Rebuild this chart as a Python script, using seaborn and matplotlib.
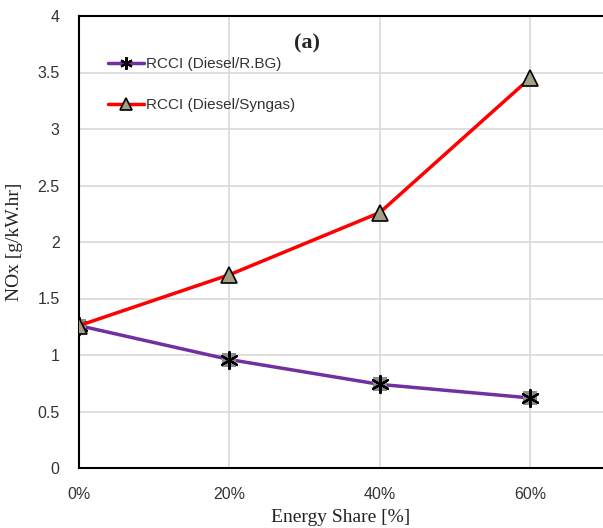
import matplotlib
matplotlib.use("Agg")
import matplotlib.pyplot as plt
from matplotlib.lines import Line2D
import seaborn as sns
import pandas as pd

share = [0, 20, 40, 60]
tick_labels = ["0%", "20%", "40%", "60%"]
rbg = [1.26, 0.96, 0.74, 0.62]
syngas = [1.26, 1.71, 2.26, 3.45]
names = ["RCCI (Diesel/R.BG)", "RCCI (Diesel/Syngas)"]

sns.set_theme(style="whitegrid")
plt.rcParams['font.family'] = ['Liberation Sans', 'DejaVu Sans']

fig = plt.figure(figsize=(6.03, 5.28), dpi=100)
ax = fig.add_axes([79/603, 60/528, 1 - 79/603, (468-16)/528])

df1 = pd.DataFrame({"x": share, "y": rbg})
df2 = pd.DataFrame({"x": share, "y": syngas})

sns.lineplot(data=df1, x="x", y="y", ax=ax, color="#7030a0", lw=2.5,
             marker="s", markersize=10, markerfacecolor="#8c8c8c",
             markeredgewidth=0, zorder=3)
sns.scatterplot(data=df1, x="x", y="y", ax=ax, marker=(6, 2, 0), s=150,
                color="black", linewidth=1.6, zorder=4)
sns.lineplot(data=df2, x="x", y="y", ax=ax, color="#ff0000", lw=2.5,
             marker="^", markersize=12, markerfacecolor="#a49e84",
             markeredgecolor="black", markeredgewidth=1.2, zorder=5)

ax.set_xlim(0, 69.7)
ax.set_ylim(0, 4)
ax.set_xticks(share)
ax.set_xticklabels(tick_labels)
ax.set_yticks([0, 0.5, 1, 1.5, 2, 2.5, 3, 3.5, 4])
ax.set_yticklabels(["0", "0.5", "1", "1.5", "2", "2.5", "3", "3.5", "4"])
ax.tick_params(axis="both", labelsize=11.5, colors="#333333", length=0)
ax.tick_params(axis="x", pad=14)
ax.tick_params(axis="y", pad=14)

ax.grid(True, color="#d9d9d9", lw=1.2)
ax.set_facecolor("white")
for s in ["left", "bottom", "top"]:
    ax.spines[s].set_visible(True)
    ax.spines[s].set_color("black")
    ax.spines[s].set_linewidth(1.5)
ax.spines["right"].set_visible(False)

ax.set_xlabel("Energy Share [%]", family=["Liberation Serif"], fontsize=14, color="#222222", labelpad=5)
ax.set_ylabel("NOx [g/kW.hr]", family=["Liberation Serif"], fontsize=14, color="#222222", labelpad=10)

ax.text(0.435, 0.94, "(a)", transform=ax.transAxes, family=["Liberation Serif"],
        fontsize=16, fontweight="bold", ha="center", va="center")

h1 = Line2D([], [], color="#7030a0", lw=2.5, marker=(6, 2, 0), markersize=9,
            markeredgecolor="black", markeredgewidth=1.5)
h2 = Line2D([], [], color="#ff0000", lw=2.5, marker="^", markersize=9,
            markerfacecolor="#a49e84", markeredgecolor="black", markeredgewidth=1.2)
ax.legend([h1, h2], names, loc="upper left", bbox_to_anchor=(0.03, 0.94), frameon=False,
          fontsize=11, labelspacing=1.8, handlelength=2.3, handletextpad=0.15,
          labelcolor="#333333")

fig.savefig("out.png", dpi=100)
